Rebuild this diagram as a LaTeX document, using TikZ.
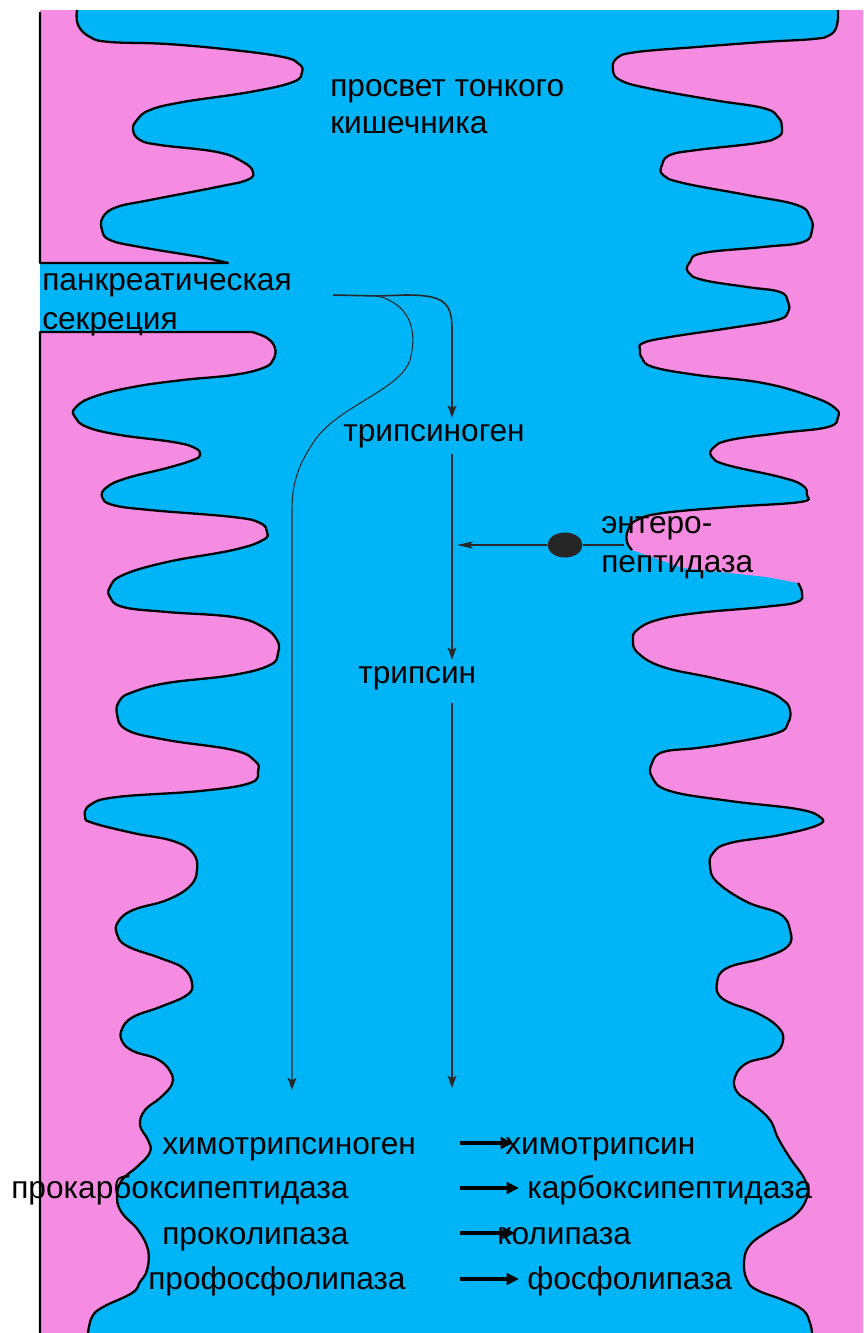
\documentclass[tikz,border=0pt]{standalone}
\usepackage{fontspec}
\setmainfont{Liberation Sans}
\usetikzlibrary{arrows.meta,shapes.geometric}

\definecolor{lumenblue}{RGB}{0,181,247}
\definecolor{mucosapink}{RGB}{246,140,226}
\definecolor{inkgray}{RGB}{40,40,40}

\newcommand{\lblfont}{\fontsize{18}{21.6}\selectfont}

% villus outlines (x right, y down), each continues the current path
\newcommand{\wallLup}{-- plot[smooth,tension=.7] coordinates {(77,10) (78,25) (90,37) (110,42) (167,44) (233,50) (283,57) (299,64) (302,72) (293,82) (250,92) (183,102) (150,110) (137,120) (133,130) (140,140) (160,145) (217,152) (243,162) (253,172) (247,180) (217,187) (150,200) (117,207) (103,217) (102,230) (110,240) (140,247) (200,257) (228,263)}}
\newcommand{\wallLlow}{-- plot[smooth,tension=.7] coordinates {(252,332) (267,338) (275,348) (273,360) (263,368) (233,375) (183,380) (133,387) (93,397) (75,408) (75,417) (87,427) (120,435) (173,442) (195,448) (200,455) (193,460) (167,468) (127,478) (107,487) (102,497) (113,505) (150,510) (233,517) (260,523) (267,532) (263,540) (233,550) (167,562) (123,575) (110,587) (110,597) (123,607) (167,612) (233,617) (263,627) (277,640) (278,653) (270,665) (233,675) (167,683) (133,692) (120,700) (117,714) (127,730) (167,740) (233,750) (255,761) (258,771) (250,783) (200,791) (117,797) (90,805) (85,817) (93,823) (133,833) (173,841) (193,853) (197,870) (190,886) (167,900) (133,910) (118,922) (117,934) (127,946) (160,958) (183,968) (192,983) (187,995) (160,1007) (133,1017) (122,1029) (122,1041) (133,1051) (157,1059) (170,1071) (172,1084) (160,1098) (145,1110) (140,1125) (148,1140) (150,1152) (138,1166) (122,1180) (117,1197) (122,1213) (138,1230) (148,1250) (147,1270) (140,1282) (132,1293) (103,1307) (92,1317) (88,1333)}}
\newcommand{\wallRup}{-- plot[smooth,tension=.7] coordinates {(838,10) (837,25) (830,35) (813,39) (763,42) (697,47) (637,52) (617,58) (613,70) (620,80) (647,88) (713,100) (763,108) (778,117) (782,128) (778,137) (757,143) (697,150) (670,155) (662,165) (663,175) (683,183) (747,195) (797,205) (810,217) (812,230) (803,242) (763,247) (703,253) (690,262) (688,272) (703,280) (747,287) (780,292) (788,302) (788,312) (777,320) (730,328) (670,337) (643,343) (640,350) (642,358) (653,367) (697,375) (763,383) (813,397) (835,408) (838,417) (828,427) (780,433) (730,440) (713,448) (712,457) (727,465) (780,477) (802,485) (807,495) (800,502) (730,507) (663,513) (637,520) (628,530) (627,542) (632,550)}}
\newcommand{\wallRlow}{-- plot[smooth,tension=.7] coordinates {(798,583) (802,593) (797,602) (763,607) (697,613) (657,620) (637,630) (633,640) (638,653) (663,667) (713,678) (763,690) (783,700) (790,710) (788,723) (777,733) (730,743) (697,748) (663,752) (652,763) (652,777) (670,791) (730,801) (797,809) (820,817) (818,825) (780,835) (730,843) (713,853) (710,866) (717,882) (747,902) (780,914) (790,930) (788,946) (763,958) (727,968) (717,983) (723,999) (757,1013) (778,1027) (783,1041) (773,1055) (747,1063) (735,1077) (737,1092) (753,1104) (770,1120) (778,1138) (790,1158) (805,1180) (807,1197) (795,1215) (770,1230) (750,1245) (744,1262) (747,1280) (757,1290) (783,1300) (803,1310) (810,1323) (812,1333)}}

\begin{document}
\begin{tikzpicture}[
  x=0.02cm, y=-0.02cm,
  wall/.style={draw=black, line width=1.3pt, line join=round},
  lbl/.style={anchor=base west, inner xsep=0pt, font=\lblfont},
  flow/.style={draw=inkgray, line width=0.9pt, -{Stealth[length=7pt,width=5pt,inset=1.5pt]}},
  branch/.style={draw=inkgray, line width=0.6pt, -{Stealth[length=7pt,width=5pt,inset=1.5pt]}},
  activate/.style={draw=inkgray, line width=0.6pt, -{Stealth[length=9pt,width=4pt,inset=2pt]}},
  convert/.style={draw=black, line width=2.3pt, -{Triangle[length=7pt,width=6.5pt]}},
  enzyme/.style={ellipse, fill=black!85, minimum width=0.7cm, minimum height=0.5cm, inner sep=0pt}
]
\useasboundingbox (0,0) rectangle (863,1333);

% --- gut wall and lumen ---
\fill[white] (0,0) rectangle (863,1333);
\fill[lumenblue] (40,10) rectangle (863,1333);
\fill[mucosapink] (40,10) \wallLup -- (40,263) -- cycle;
\fill[mucosapink] (40,332) \wallLlow -- (40,1333) -- cycle;
\fill[mucosapink] (863,10) \wallRup -- (683,568) -- (767,577) \wallRlow -- (863,1333) -- cycle;

\draw[wall] (77,10) \wallLup -- (40,263) -- (40,12);
\draw[wall] (40,1333) -- (40,332) \wallLlow;
\draw[wall] (838,10) \wallRup;
\draw[wall] (798,583) \wallRlow;

% --- labels ---
\node[lbl] (lumen1) at (330,96) {просвет тонкого};
\node[lbl] (lumen2) at (330,133) {кишечника};
\node[lbl] (panc1) at (42,290) {панкреатическая};
\node[lbl] (panc2) at (42,329) {секреция};
\node[lbl] (tgn) at (343,441) {трипсиноген};
\node[lbl] (tryp) at (358,683) {трипсин};
\node[lbl] (ent1) at (601,533) {энтеро-};
\node[lbl] (ent2) at (601,572) {пептидаза};

% --- zymogens and active enzymes ---
\node[lbl] (pro1) at (162,1154) {химотрипсиноген};
\node[lbl] (pro2) at (11,1198) {прокарбоксипептидаза};
\node[lbl] (pro3) at (162,1244) {проколипаза};
\node[lbl] (pro4) at (148,1289) {профосфолипаза};
\node[lbl] (act1) at (505,1154) {химотрипсин};
\node[lbl] (act2) at (527,1198) {карбоксипептидаза};
\node[lbl] (act3) at (497,1244) {колипаза};
\node[lbl] (act4) at (527,1289) {фосфолипаза};

% --- secretion pathway ---
\coordinate (duct) at (333,295);
\coordinate (fork) at (378,296);
\coordinate (trx) at (452,0);
\coordinate (chyend) at (292,1090);
\coordinate (tryend) at (452,1088);

\draw[flow] (duct) -- (fork) -- (405,295) .. controls (440,295) and (452,300) .. (452,328) -- (tgn.north -| trx);
\draw[branch] (fork) .. controls (410,305) and (418,330) .. (410,360)
  .. controls (400,390) and (340,405) .. (315,440)
  .. controls (300,462) and (292,480) .. (292,510) -- (chyend);
\draw[flow] (tgn.south -| trx) -- (tryp.north -| trx);
\draw[flow, shorten <=1.5mm] (tryp.south -| trx) -- (tryend);

% --- enteropeptidase on the brush border ---
\node[enzyme] (ep) at (565,545) {};
\coordinate (brush) at (624,545);
\coordinate (eptip) at (457,545);
\draw[inkgray, line width=0.6pt] (brush) -- (ep);
\draw[activate] (ep) -- (eptip);

% --- activation arrows ---
\coordinate (c1) at (460,1143);
\coordinate (c2) at (460,1188);
\coordinate (c3) at (460,1233);
\coordinate (c4) at (460,1279);
\coordinate (t1) at (513,1143);
\coordinate (t2) at (519,1188);
\coordinate (t3) at (515,1233);
\coordinate (t4) at (519,1279);
\draw[convert] (c1) -- (t1);
\draw[convert] (c2) -- (t2);
\draw[convert] (c3) -- (t3);
\draw[convert] (c4) -- (t4);

\end{tikzpicture}
\end{document}
